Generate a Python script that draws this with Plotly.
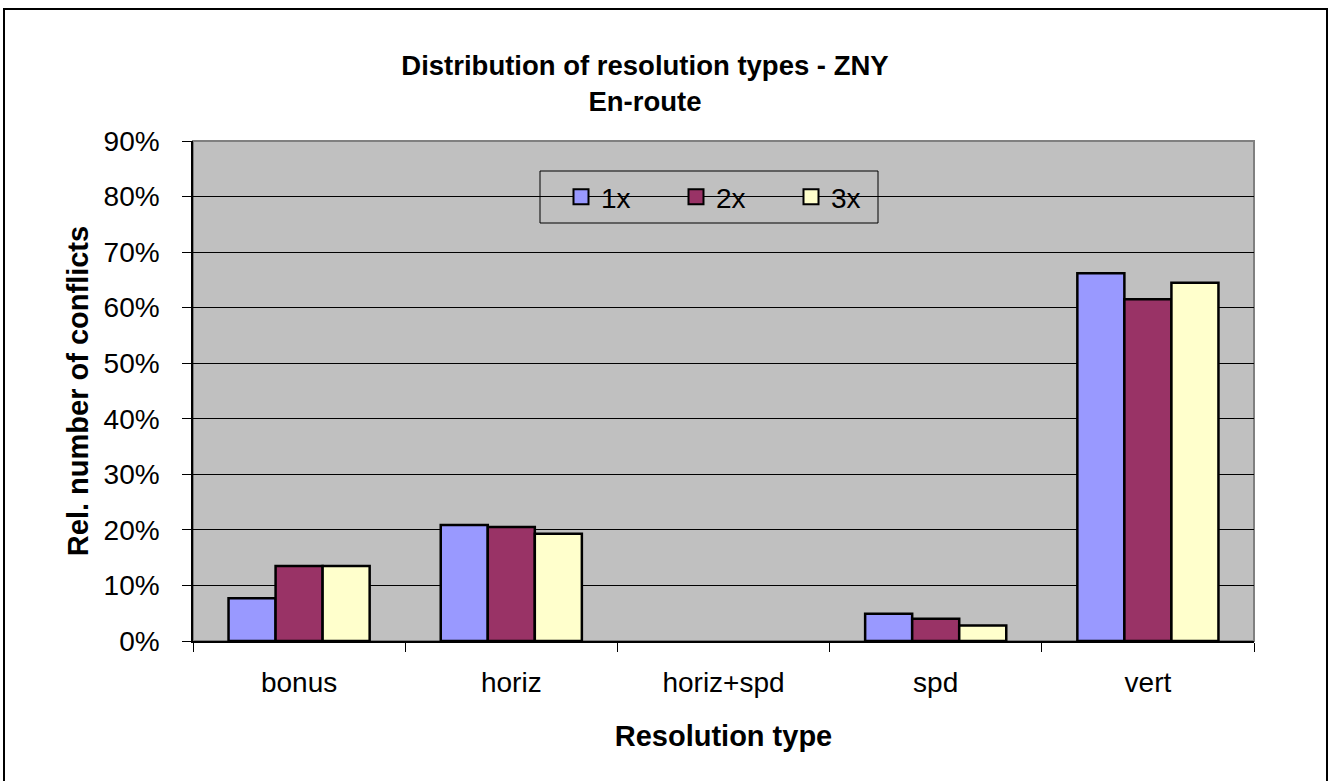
import plotly.graph_objects as go

categories = ["bonus", "horiz", "horiz+spd", "spd", "vert"]
series_names = ["1x", "2x", "3x"]
values_1x = [0.077, 0.209, None, 0.049, 0.662]
values_2x = [0.135, 0.205, None, 0.040, 0.615]
values_3x = [0.135, 0.193, None, 0.028, 0.645]
colors = ["#9999FF", "#993366", "#FFFFCC"]
y_tickvals = [0, 0.1, 0.2, 0.3, 0.4, 0.5, 0.6, 0.7, 0.8, 0.9]

FONT = "Liberation Sans, Arial, sans-serif"
W, H = 1331, 781
L, R, T, B = 193, 77, 141, 140
PW, PH = W - L - R, H - T - B


def px_x(p):
    return (p - L) / PW


def px_y(p):
    return (H - B - p) / PH


fig = go.Figure()
for name, vals, col in zip(series_names, [values_1x, values_2x, values_3x], colors):
    fig.add_trace(go.Bar(
        x=categories, y=vals, name=name, showlegend=False, legendgroup=name,
        marker=dict(color=col, line=dict(color="black", width=2.5)),
    ))
# legend entries (square markers like the reference's legend keys)
for name, col in zip(series_names, colors):
    fig.add_trace(go.Scatter(
        x=[None], y=[None], mode="markers", name=name, legendgroup=name,
        marker=dict(symbol="square", size=15, color=col, line=dict(color="black", width=2)),
    ))

fig.update_layout(
    width=W, height=H,
    margin=dict(l=L, r=R, t=T, b=B, pad=0),
    paper_bgcolor="white",
    plot_bgcolor="#C0C0C0",
    barmode="group",
    bargap=0.335,
    bargroupgap=0,
    font=dict(family=FONT, size=28, color="black"),
    title=dict(
        text="<b>Distribution of resolution types - ZNY</b><br><b>En-route</b>",
        x=645 / W, xanchor="center", xref="container",
        y=1 - 75 / H, yanchor="middle", yref="container",
        font=dict(family=FONT, size=27.5, color="black"),
    ),
    xaxis=dict(
        type="category",
        showline=True, linecolor="black", linewidth=1.5,
        ticks="outside", ticklen=9, tickcolor="black", tickwidth=1,
        tickson="boundaries",
        showgrid=False,
        ticklabelstandoff=16,
        tickfont=dict(size=28),
        title=dict(text="<b>Resolution type</b>", font=dict(size=29), standoff=28),
    ),
    yaxis=dict(
        range=[0, 0.9],
        tickvals=y_tickvals,
        tickformat=".0%",
        showline=True, linecolor="black", linewidth=1.5,
        ticks="outside", ticklen=9, tickcolor="black", tickwidth=1,
        showgrid=True, gridcolor="black", gridwidth=1,
        zeroline=False,
        ticklabelstandoff=17,
        tickfont=dict(size=28),
        title=dict(text="<b>Rel. number of conflicts</b>", font=dict(size=29), standoff=6),
    ),
    legend=dict(
        orientation="h",
        x=px_x(561), xanchor="left",
        y=px_y(197), yanchor="middle",
        bgcolor="rgba(0,0,0,0)",
        borderwidth=0,
        font=dict(size=28),
        entrywidth=70, entrywidthmode="pixels",
        traceorder="normal",
        itemclick=False, itemdoubleclick=False,
    ),
    showlegend=True,
    shapes=[
        # plot area border (gray)
        dict(type="rect", xref="paper", yref="paper", x0=0, x1=1, y0=0, y1=1,
             line=dict(color="#808080", width=2), layer="below"),
        # legend box
        dict(type="rect", xref="paper", yref="paper",
             x0=px_x(540), x1=px_x(878), y0=px_y(223), y1=px_y(171),
             line=dict(color="black", width=1)),
        # outer chart frame
        dict(type="rect", xref="paper", yref="paper",
             x0=px_x(4), x1=px_x(1327), y0=px_y(790), y1=px_y(9),
             line=dict(color="black", width=2)),
    ],
)

fig.write_html(
    "out.html",
    config={"displayModeBar": False},
    post_script="document.body.style.margin='0';document.body.style.overflow='hidden';",
)
